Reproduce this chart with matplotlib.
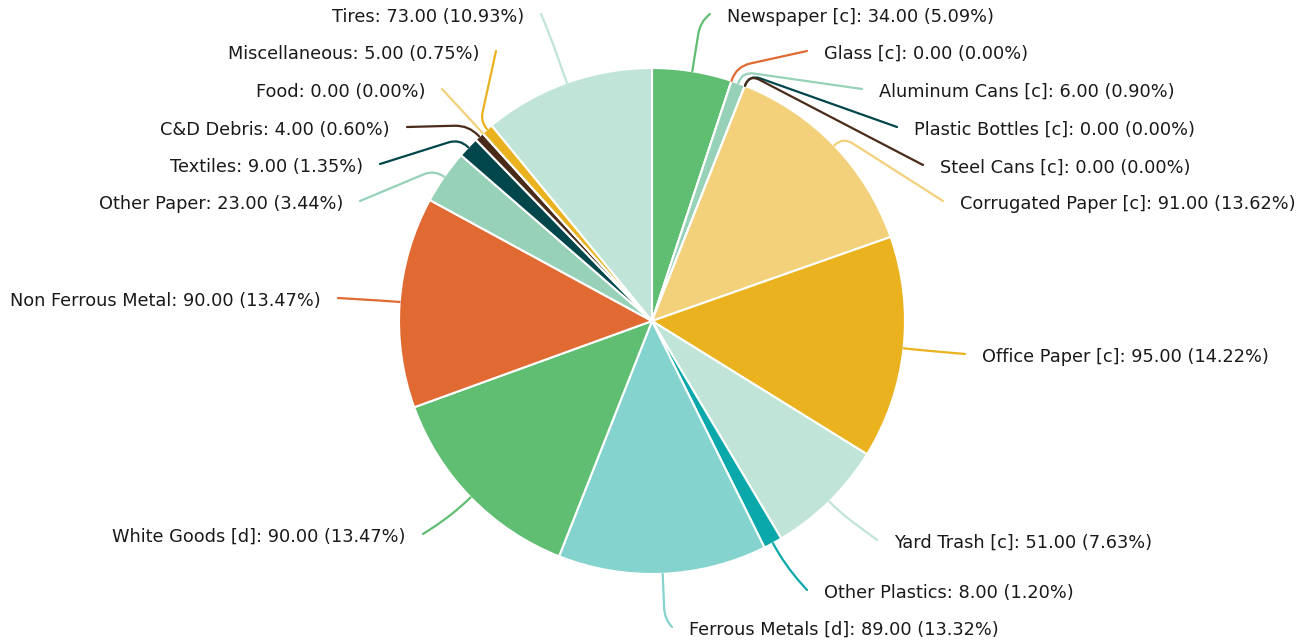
import numpy as np
import matplotlib
matplotlib.use("Agg")
import matplotlib.pyplot as plt
from matplotlib.path import Path
from matplotlib.patches import PathPatch

# ---- data ----
labels = ["Newspaper [c]", "Glass [c]", "Aluminum Cans [c]", "Plastic Bottles [c]",
          "Steel Cans [c]", "Corrugated Paper [c]", "Office Paper [c]", "Yard Trash [c]",
          "Other Plastics", "Ferrous Metals [d]", "White Goods [d]", "Non Ferrous Metal",
          "Other Paper", "Textiles", "C&D Debris", "Food", "Miscellaneous", "Tires"]
values = [34, 0, 6, 0, 0, 91, 95, 51, 8, 89, 90, 90, 23, 9, 4, 0, 5, 73]

palette = ["#60be72", "#e06a32", "#96d1b8", "#00464a", "#4a2a18",
           "#f3d07a", "#ebb220", "#c0e4d8", "#0aa8aa", "#84d3cf"]
colors = [palette[i % len(palette)] for i in range(len(values))]

# ---- layout (pixel coords, y from top) ----
W, H = 1311, 644
cx, cy_px, R = 652, 321, 253
# leader end points (x, y) and radial leader length
end_x = [710, 807, 862, 897, 923, 943, 965, 877, 807, 672, 423, 338, 360, 380, 407, 442, 496, 541]
end_y = [14, 51, 89, 127, 165, 201, 354, 540, 590, 627, 534, 298, 201, 164, 127, 89, 51, 14]
lead_len = [50, 15, 12, 12, 12, 12, 15, 15, 25, 45, 25, 15, 12, 12, 15, 15, 10, 55]
text_gap = 17
text_dy = 3

fig = plt.figure(figsize=(W / 100, H / 100), dpi=100)
ax = fig.add_axes([0, 0, 1, 1])
cy = H - cy_px
ax.pie(values, colors=colors, startangle=90, counterclock=False, radius=R,
       center=(cx, cy), wedgeprops=dict(edgecolor="white", linewidth=1.5))
ax.set_xlim(0, W)
ax.set_ylim(0, H)
ax.set_aspect("equal")
ax.axis("off")

total = float(sum(values))
cum = 0.0
for i, (lab, v) in enumerate(zip(labels, values)):
    mid = (cum + v / 2.0) / total * 360.0
    cum += v
    th = np.deg2rad(mid)
    d = np.array([np.sin(th), np.cos(th)])
    E = np.array([cx, cy]) + R * d
    P1 = np.array([cx, cy]) + (R + lead_len[i]) * d
    P2 = np.array([end_x[i], H - end_y[i]])
    l1 = np.linalg.norm(P1 - E)
    l2 = np.linalg.norm(P2 - P1)
    r = min(l1, l2) * 0.95
    A = P1 + (E - P1) * (r / l1)
    B = P1 + (P2 - P1) * (r / l2)
    path = Path([E, A, P1, B, P2],
                [Path.MOVETO, Path.LINETO, Path.CURVE3, Path.CURVE3, Path.LINETO])
    ax.add_patch(PathPatch(path, facecolor="none", edgecolor=colors[i], lw=1.6,
                           capstyle="round", joinstyle="round"))
    pct = v / total * 100.0
    txt = f"{lab}: {v:.2f} ({pct:.2f}%)"
    ty = P2[1] - text_dy
    if mid < 180:
        ax.text(P2[0] + text_gap, ty, txt, ha="left", va="center", fontsize=12.8, color="#1a1a1a")
    else:
        ax.text(P2[0] - text_gap, ty, txt, ha="right", va="center", fontsize=12.8, color="#1a1a1a")

fig.savefig("out.png", dpi=100, facecolor="white")
